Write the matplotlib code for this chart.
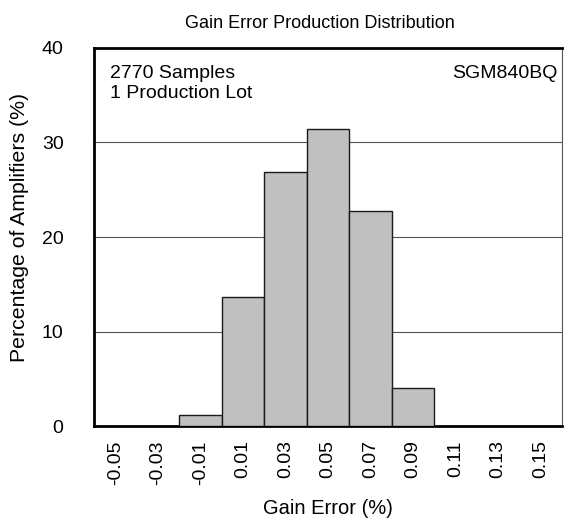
import matplotlib
matplotlib.use('Agg')
import matplotlib.pyplot as plt

plt.rcParams['font.family'] = ['Liberation Sans', 'DejaVu Sans']

# 增益误差分布数据
bins = ['-0.05', '-0.03', '-0.01', '0.01', '0.03', '0.05', '0.07', '0.09', '0.11', '0.13', '0.15']
percent = [0, 0, 1.2, 13.7, 26.9, 31.4, 22.8, 4.0, 0, 0, 0]

fig = plt.figure(figsize=(5.67, 5.21), dpi=100)
ax = fig.add_axes([0.166, 0.182, 0.825, 0.726])

x = range(len(bins))
ax.bar(x, percent, width=1.0, color='#c0c0c0', edgecolor='#1a1a1a', linewidth=1.0, zorder=3)

ax.set_xlim(-0.5, len(bins) - 0.5)
ax.set_ylim(0, 40)
ax.set_yticks([0, 10, 20, 30, 40])
ax.set_xticks(list(x))
ax.set_xticklabels(bins, rotation=90)
ax.tick_params(axis='both', length=0, labelsize=14)
ax.tick_params(axis='x', pad=10)
ax.tick_params(axis='y', pad=22)

for yv in [10, 20, 30]:
    ax.axhline(yv, color='#555555', linewidth=0.8, zorder=1)

for s in ['left', 'top', 'bottom']:
    ax.spines[s].set_linewidth(2.0)
ax.spines['right'].set_linewidth(0.8)
ax.spines['right'].set_color('#555555')

ax.set_title('Gain Error Production Distribution', fontsize=13, pad=14, x=0.483)
ax.set_xlabel('Gain Error (%)', fontsize=14.5)
ax.set_ylabel('Percentage of Amplifiers (%)', fontsize=15.3)
ax.xaxis.set_label_coords(0.5, -0.192)
ax.yaxis.set_label_coords(-0.14, 0.526)

ax.text(0.035, 0.955, '2770 Samples\n1 Production Lot', transform=ax.transAxes,
        ha='left', va='top', fontsize=14, linespacing=1.25)
ax.text(0.99, 0.955, 'SGM840BQ', transform=ax.transAxes,
        ha='right', va='top', fontsize=14)

fig.savefig('out.png', dpi=100)
